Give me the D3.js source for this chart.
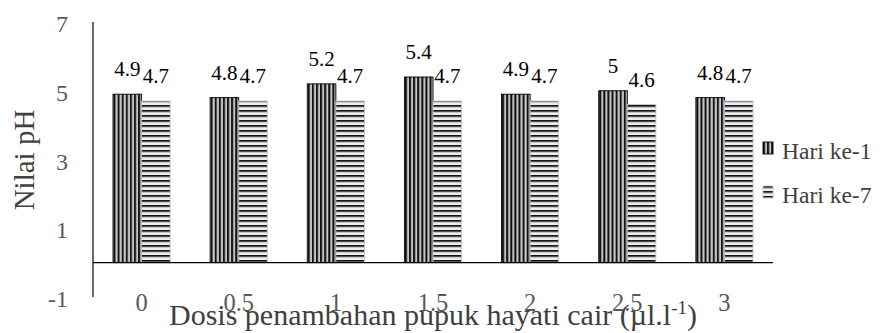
<!DOCTYPE html>
<html>
<head>
<meta charset="utf-8">
<script src="https://cdn.jsdelivr.net/npm/d3@7"></script>
<style>
  html, body { margin: 0; padding: 0; background: #fff; }
  svg { display: block; }
  svg text { font-family: "Liberation Serif", "DejaVu Serif", serif; }
</style>
</head>
<body>
<svg id="chart" width="883" height="333"></svg>
<script>
// Doses of liquid biofertilizer (µl/l) and soil pH readings
const doses = ["0", "0.5", "1", "1.5", "2", "2.5", "3"];
const seriesNames = ["Hari ke-1", "Hari ke-7"];
const day1 = [4.9, 4.8, 5.2, 5.4, 4.9, 5, 4.8];
const day7 = [4.7, 4.7, 4.7, 4.7, 4.7, 4.6, 4.7];
const yTicks = [-1, 1, 3, 5, 7];

const FONT = "Liberation Serif";
const svg = d3.select("#chart");
const plotLeft = 93, plotRight = 773, plotTop = 22, plotBottom = 297;

const x = d3.scaleBand().domain(doses).range([plotLeft, plotRight]).paddingInner(0).paddingOuter(0);
const xs = d3.scaleBand().domain(seriesNames).range([0, x.bandwidth()]).paddingInner(0).paddingOuter(0.7);
const y = d3.scaleLinear().domain([-1, 7]).range([plotBottom, plotTop]);

// Stripe fills
const defs = svg.append("defs");
const pv = defs.append("pattern").attr("id", "vstripe")
  .attr("patternUnits", "userSpaceOnUse").attr("width", 4.1).attr("height", 10);
pv.append("rect").attr("width", 4.1).attr("height", 10).attr("fill", "#c8c8c8");
pv.append("rect").attr("x", 0).attr("width", 1.9).attr("height", 10).attr("fill", "#111");
pv.append("rect").attr("x", 1.9).attr("width", 0.6).attr("height", 10).attr("fill", "#707070");

const ph = defs.append("pattern").attr("id", "hstripe")
  .attr("patternUnits", "userSpaceOnUse").attr("width", 10).attr("height", 5);
ph.append("rect").attr("width", 10).attr("height", 5).attr("fill", "#eeeeee");
ph.append("rect").attr("y", 0).attr("width", 10).attr("height", 1.8).attr("fill", "#151515");
ph.append("rect").attr("y", 1.8).attr("width", 10).attr("height", 0.7).attr("fill", "#9a9a9a");

const fills = { "Hari ke-1": "url(#vstripe)", "Hari ke-7": "url(#hstripe)" };
const strokes = { "Hari ke-1": "#000", "Hari ke-7": "#b9c6d8" };

const rows = doses.map((d, i) => ({ dose: d, values: [
  { key: "Hari ke-1", v: day1[i] },
  { key: "Hari ke-7", v: day7[i] }
]}));

const groups = svg.append("g").selectAll("g").data(rows).join("g")
  .attr("transform", d => `translate(${x(d.dose)},0)`);

groups.selectAll("rect").data(d => d.values).join("rect")
  .attr("x", d => xs(d.key))
  .attr("width", xs.bandwidth())
  .attr("y", d => y(d.v))
  .attr("height", d => y(0) - y(d.v))
  .attr("fill", d => fills[d.key])
  .attr("stroke", d => strokes[d.key])
  .attr("stroke-width", 0.9);

// Value labels
groups.selectAll("text").data(d => d.values).join("text")
  .attr("x", d => xs(d.key) + xs.bandwidth() / 2)
  .attr("y", d => y(d.v) - 18)
  .attr("text-anchor", "middle")
  .attr("font-family", FONT)
  .attr("font-size", 21)
  .attr("fill", "#000")
  .text(d => String(d.v));

// Axis lines
svg.append("line").attr("x1", plotLeft).attr("x2", plotLeft).attr("y1", plotTop).attr("y2", plotBottom)
  .attr("stroke", "#000").attr("stroke-width", 1.2);
svg.append("line").attr("x1", plotLeft).attr("x2", plotRight).attr("y1", y(0)).attr("y2", y(0))
  .attr("stroke", "#000").attr("stroke-width", 1.2);

// Y tick labels
svg.append("g").selectAll("text").data(yTicks).join("text")
  .attr("x", 68).attr("y", d => y(d)).attr("dy", "0.42em")
  .attr("text-anchor", "end").attr("font-family", FONT).attr("font-size", 24).attr("fill", "#595959")
  .text(d => d);

// X tick labels
svg.append("g").selectAll("text").data(doses).join("text")
  .attr("x", d => x(d) + x.bandwidth() / 2).attr("y", 311)
  .attr("text-anchor", "middle").attr("font-family", FONT).attr("font-size", 24.5).attr("fill", "#595959")
  .text(d => d);

// Axis titles
const xt = svg.append("text").attr("x", (plotLeft + plotRight) / 2).attr("y", 325)
  .attr("text-anchor", "middle").attr("font-family", FONT).attr("font-size", 30).attr("fill", "#404040");
xt.append("tspan").text("Dosis penambahan pupuk hayati cair (µl.l");
xt.append("tspan").attr("font-size", 19).attr("dy", -11).text("-1");
xt.append("tspan").attr("dy", 11).text(")");

svg.append("text").attr("transform", "translate(24,160) rotate(-90)")
  .attr("text-anchor", "middle").attr("dy", "0.35em")
  .attr("font-family", FONT).attr("font-size", 29).attr("fill", "#404040").text("Nilai pH");

// Legend
const lg = svg.append("g").selectAll("g").data(seriesNames).join("g")
  .attr("transform", (d, i) => `translate(763,${142 + i * 44})`);
lg.append("rect").attr("width", 10).attr("height", 12)
  .attr("fill", d => fills[d]).attr("stroke", d => strokes[d]).attr("stroke-width", 0.9);
lg.append("text").attr("x", 19).attr("y", 16.5)
  .attr("font-family", FONT).attr("font-size", 23.5).attr("fill", "#404040")
  .text(d => d);
</script>
</body>
</html>
